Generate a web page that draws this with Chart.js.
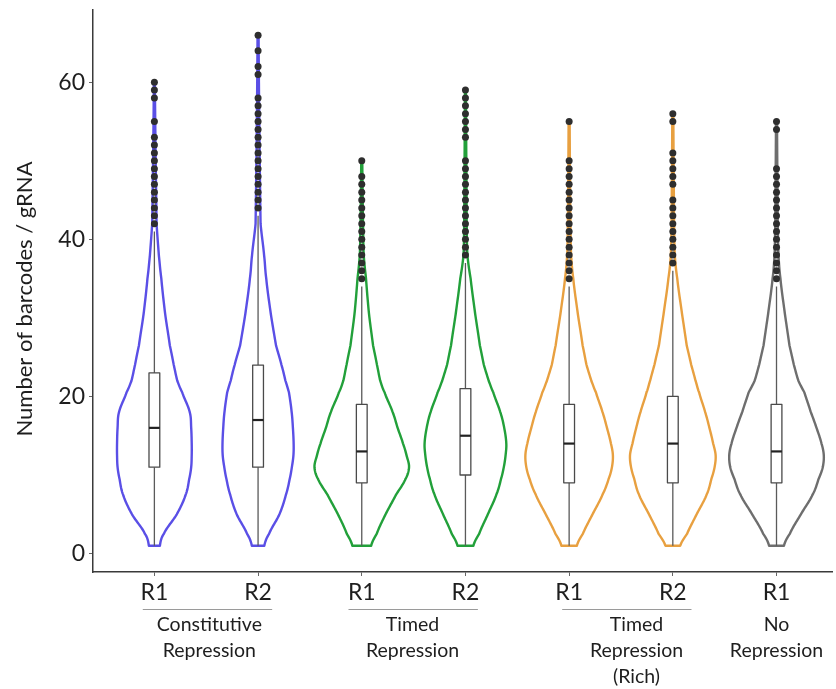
<!DOCTYPE html>
<html>
<head>
<meta charset="utf-8">
<script src="https://cdn.jsdelivr.net/npm/chart.js@4.4.1/dist/chart.umd.min.js"></script>
<style>
  html, body { margin: 0; padding: 0; background: #ffffff; }
  #wrap { width: 836px; height: 689px; }
</style>
</head>
<body>
<div id="wrap"><canvas id="c" width="836" height="689"></canvas></div>
<script>
// ---------------- DATA ----------------
const categories = ['R1', 'R2', 'R1', 'R2', 'R1', 'R2', 'R1'];
const groupNames = [
  ['Constitutive', 'Repression'],
  ['Timed', 'Repression'],
  ['Timed', 'Repression', '(Rich)'],
  ['No', 'Repression']
];
const yTickValues = [0, 20, 40, 60];
const yTitle = 'Number of barcodes / gRNA';

// box statistics
const whiskerLow  = [1, 1, 1, 1, 1, 1, 1];
const q1          = [11, 11, 9, 10, 9, 9, 9];
const median      = [16, 17, 13, 15, 14, 14, 13];
const q3          = [23, 24, 19, 21, 19, 20, 19];
const whiskerHigh = [41, 43, 34, 37, 34, 36, 34];
const maxValue    = [60, 66, 50, 59, 55, 56, 55];

// outliers
const outCR1 = [60, 59, 58, 55, 53, 52, 51, 50, 49, 48, 47, 46, 45, 44, 43, 42];
const outCR2 = [66, 64, 62, 61, 58, 57, 56, 55, 54, 53, 52, 51, 50, 49, 48, 47, 46, 45, 44];
const outTR1 = [50, 48, 47, 46, 45, 44, 43, 42, 41, 40, 39, 38, 37, 36, 35];
const outTR2 = [59, 58, 57, 56, 55, 54, 53, 50, 49, 48, 47, 46, 45, 44, 43, 42, 41, 40, 39, 38];
const outRR1 = [55, 50, 49, 48, 47, 46, 45, 44, 43, 42, 41, 40, 39, 38, 37, 36, 35];
const outRR2 = [56, 55, 51, 50, 49, 48, 47, 45, 44, 43, 42, 41, 40, 39, 38, 37];
const outNR1 = [55, 54, 49, 48, 47, 46, 45, 44, 43, 42, 41, 40, 39, 38, 37, 36, 35];
const outliers = [outCR1, outCR2, outTR1, outTR2, outRR1, outRR2, outNR1];

// violin density profile (half-width in category units) at these values
const densityY = [1, 2.5, 5, 7.5, 9.5, 11, 12.5, 14, 16, 18, 20.5, 22, 24, 26.5, 30.5, 35, 38, 42];
const densCR1 = [0.053, 0.091, 0.216, 0.302, 0.336, 0.355, 0.360, 0.360, 0.355, 0.341, 0.269, 0.221, 0.187, 0.149, 0.104, 0.067, 0.043, 0.021];
const densCR2 = [0.060, 0.106, 0.206, 0.269, 0.305, 0.326, 0.341, 0.343, 0.336, 0.324, 0.298, 0.264, 0.226, 0.173, 0.123, 0.079, 0.058, 0.024];
const densTR1 = [0.091, 0.144, 0.230, 0.331, 0.422, 0.456, 0.432, 0.398, 0.346, 0.298, 0.221, 0.178, 0.147, 0.109, 0.070, 0.041, 0.019, 0.012];
const densTR2 = [0.077, 0.132, 0.216, 0.298, 0.343, 0.370, 0.387, 0.394, 0.374, 0.336, 0.269, 0.224, 0.178, 0.139, 0.094, 0.050, 0.019, 0.012];
const densRR1 = [0.075, 0.132, 0.226, 0.322, 0.381, 0.413, 0.422, 0.403, 0.365, 0.322, 0.259, 0.214, 0.168, 0.130, 0.084, 0.040, 0.019, 0.012];
const densRR2 = [0.072, 0.137, 0.230, 0.326, 0.372, 0.403, 0.413, 0.389, 0.353, 0.312, 0.254, 0.219, 0.178, 0.134, 0.089, 0.043, 0.019, 0.012];
const densNR1 = [0.072, 0.128, 0.235, 0.348, 0.406, 0.446, 0.456, 0.434, 0.386, 0.331, 0.269, 0.211, 0.168, 0.125, 0.081, 0.038, 0.019, 0.012];
const densities = [densCR1, densCR2, densTR1, densTR2, densRR1, densRR2, densNR1];

// ---------------- STYLE / LAYOUT ----------------
const violinColors = ['#5a4fe6', '#5a4fe6', '#22a03a', '#22a03a', '#e8a040', '#e8a040', '#6e6e6e'];
const FONT = 'Lato, "Open Sans", sans-serif';
const TAIL_W = 0.005;
const BOX_HALF = 0.052;
const groupLineSpans = [[0.888, 2.136], [2.872, 4.12], [4.933, 6.18], null];
const groupTextX = [1.53, 3.49, 5.65, 7.0];

// ---------------- PLUGINS ----------------
function catmull(p0, p1, p2, p3, t) {
  const t2 = t * t, t3 = t2 * t;
  return 0.5 * ((2 * p1) + (-p0 + p2) * t + (2 * p0 - 5 * p1 + 4 * p2 - p3) * t2 + (-p0 + 3 * p1 - 3 * p2 + p3) * t3);
}

const violinPlugin = {
  id: 'violins',
  beforeDatasetsDraw(chart) {
    const { ctx, scales: { x, y } } = chart;
    ctx.save();
    categories.forEach((c, i) => {
      const xc = i + 1;
      const prof = densityY.map((v, k) => [v, densities[i][k]]);
      prof.push([maxValue[i], TAIL_W]);
      const samples = [];
      for (let k = 0; k < prof.length - 1; k++) {
        const p0 = prof[Math.max(0, k - 1)], p1 = prof[k], p2 = prof[k + 1], p3 = prof[Math.min(prof.length - 1, k + 2)];
        const n = 12;
        for (let s = 0; s < n; s++) {
          const t = s / n;
          const v = p1[0] + (p2[0] - p1[0]) * t;
          let w = catmull(p0[1], p1[1], p2[1], p3[1], t);
          if (w < 0.004) w = 0.004;
          samples.push([v, w]);
        }
      }
      samples.push(prof[prof.length - 1]);
      ctx.beginPath();
      samples.forEach(([v, w], k) => {
        const px = x.getPixelForValue(xc - w), py = y.getPixelForValue(v);
        if (k === 0) ctx.moveTo(px, py); else ctx.lineTo(px, py);
      });
      for (let k = samples.length - 1; k >= 0; k--) {
        const [v, w] = samples[k];
        ctx.lineTo(x.getPixelForValue(xc + w), y.getPixelForValue(v));
      }
      ctx.closePath();
      ctx.fillStyle = '#ffffff';
      ctx.fill();
      ctx.lineWidth = 2.4;
      ctx.lineJoin = 'round';
      ctx.strokeStyle = violinColors[i];
      ctx.stroke();

      // box plot
      const cx = x.getPixelForValue(xc);
      ctx.strokeStyle = '#5a5a5a';
      ctx.lineWidth = 1.3;
      ctx.beginPath();
      ctx.moveTo(cx, y.getPixelForValue(whiskerLow[i]));
      ctx.lineTo(cx, y.getPixelForValue(q1[i]));
      ctx.moveTo(cx, y.getPixelForValue(q3[i]));
      ctx.lineTo(cx, y.getPixelForValue(whiskerHigh[i]));
      ctx.stroke();
      const bl = x.getPixelForValue(xc - BOX_HALF), br = x.getPixelForValue(xc + BOX_HALF);
      const bt = y.getPixelForValue(q3[i]), bb = y.getPixelForValue(q1[i]);
      ctx.fillStyle = '#ffffff';
      ctx.fillRect(bl, bt, br - bl, bb - bt);
      ctx.strokeStyle = '#4a4a4a';
      ctx.lineWidth = 1.3;
      ctx.strokeRect(bl, bt, br - bl, bb - bt);
      ctx.beginPath();
      ctx.strokeStyle = '#222222';
      ctx.lineWidth = 2.2;
      const my = y.getPixelForValue(median[i]);
      ctx.moveTo(bl, my); ctx.lineTo(br, my);
      ctx.stroke();
    });
    ctx.restore();
  },
  afterDraw(chart) {
    const { ctx, scales: { x, y } } = chart;
    ctx.save();
    ctx.fillStyle = '#1e1e1e';
    ctx.font = '22px ' + FONT;
    ctx.textAlign = 'center';
    ctx.textBaseline = 'middle';
    ctx.translate(25, 299);
    ctx.rotate(-Math.PI / 2);
    ctx.fillText(yTitle, 0, 0);
    ctx.restore();

    ctx.save();
    const base = chart.chartArea.bottom;
    ctx.strokeStyle = '#9a9a9a';
    ctx.lineWidth = 1.2;
    groupLineSpans.forEach(span => {
      if (!span) return;
      ctx.beginPath();
      ctx.moveTo(x.getPixelForValue(span[0]), base + 37.5);
      ctx.lineTo(x.getPixelForValue(span[1]), base + 37.5);
      ctx.stroke();
    });
    ctx.fillStyle = '#1e1e1e';
    ctx.font = '19.5px ' + FONT;
    ctx.textAlign = 'center';
    ctx.textBaseline = 'middle';
    groupNames.forEach((lines, g) => {
      const gx = x.getPixelForValue(groupTextX[g]);
      lines.forEach((t, li) => {
        ctx.fillText(t, gx, base + 53 + li * 26);
      });
    });
    ctx.restore();
  }
};

// ---------------- CHART ----------------
const datasets = outliers.map((arr, i) => ({
  label: categories[i] + ' ' + (i + 1),
  data: arr.map(v => ({ x: i + 1, y: v })),
  pointRadius: 3.5,
  pointBackgroundColor: '#2e2e2e',
  pointBorderWidth: 0,
  pointHoverRadius: 3.5,
  showLine: false
}));

new Chart(document.getElementById('c'), {
  type: 'scatter',
  data: { datasets },
  options: {
    responsive: false,
    animation: false,
    events: [],
    layout: { padding: { top: 10, right: 0, left: 0, bottom: 0 } },
    plugins: { legend: { display: false }, tooltip: { enabled: false } },
    scales: {
      x: {
        type: 'linear',
        min: 0.408,
        max: 7.54,
        afterFit(s) { s.height = 117; s.paddingLeft = 0; s.paddingRight = 0; },
        afterBuildTicks(s) { s.ticks = categories.map((c, i) => ({ value: i + 1 })); },
        ticks: {
          stepSize: 1,
          autoSkip: false,
          includeBounds: false,
          maxRotation: 0,
          padding: 3,
          color: '#1e1e1e',
          font: { family: FONT, size: 23 },
          callback: (v) => categories[Math.round(v) - 1] || ''
        },
        grid: { display: true, drawOnChartArea: false, drawTicks: true, tickLength: 4, color: '#666666', lineWidth: 1 },
        border: { display: true, color: '#3a3a3a', width: 1.5 }
      },
      y: {
        type: 'linear',
        min: -2.35,
        max: 69.2,
        afterFit(s) { s.width = 93; s.paddingTop = 0; s.paddingBottom = 0; },
        afterBuildTicks(s) { s.ticks = yTickValues.map(v => ({ value: v })); },
        ticks: {
          stepSize: 20,
          includeBounds: false,
          padding: 4,
          color: '#1e1e1e',
          font: { family: FONT, size: 23 }
        },
        grid: { display: true, drawOnChartArea: false, drawTicks: true, tickLength: 4, color: '#666666', lineWidth: 1 },
        border: { display: true, color: '#3a3a3a', width: 1.5 }
      }
    }
  },
  plugins: [violinPlugin]
});
</script>
</body>
</html>
